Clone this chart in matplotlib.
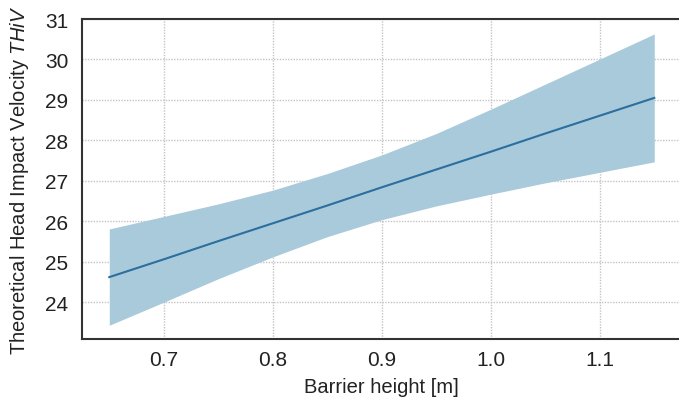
import numpy as np
import matplotlib
matplotlib.use("Agg")
from matplotlib import pyplot as plt

plt.rcParams['font.family'] = ['Liberation Sans', 'DejaVu Sans']
plt.rcParams['mathtext.fontset'] = 'custom'
plt.rcParams['mathtext.rm'] = 'Liberation Sans'
plt.rcParams['mathtext.it'] = 'Liberation Sans:italic'

# values
height = [0.65, 0.70, 0.75, 0.80, 0.85, 0.90, 0.95, 1.00, 1.05, 1.10, 1.15]
thiv = [24.62, 25.06, 25.51, 25.95, 26.39, 26.84, 27.28, 27.72, 28.17, 28.61, 29.05]
ci_upper = [25.81, 26.12, 26.43, 26.77, 27.18, 27.64, 28.17, 28.77, 29.39, 30.01, 30.63]
ci_lower = [23.43, 24.00, 24.58, 25.12, 25.62, 26.04, 26.38, 26.67, 26.95, 27.21, 27.47]

x_ticks = [0.7, 0.8, 0.9, 1.0, 1.1]
y_ticks = [24, 25, 26, 27, 28, 29, 30, 31]

fig = plt.figure(figsize=(6.79, 4.02), dpi=100)
ax = fig.add_axes([0.1208, 0.1542, 0.8829, 0.796])

ax.fill_between(height, ci_lower, ci_upper, color='#a9cadb', lw=0)
ax.plot(height, thiv, color='#2b6f9e', lw=1.5)

ax.set_xlim(0.625, 1.175)
ax.set_ylim(23.09, 31)
ax.set_xticks(x_ticks)
ax.set_xticklabels(['%.1f' % t for t in x_ticks])
ax.set_yticks(y_ticks)
ax.tick_params(length=0, labelsize=15, colors='#222222')
ax.tick_params(axis='y', pad=10)
ax.tick_params(axis='x', pad=8)

ax.grid(True, linestyle=(0, (1, 1)), color='#c4c4c4', lw=1.0)
ax.set_axisbelow(True)
for s in ['left', 'top', 'bottom', 'right']:
    ax.spines[s].set_color('#333333')
    ax.spines[s].set_linewidth(1.5)

ax.set_xlabel('Barrier height [m]', fontsize=14.5, color='#222222', labelpad=6)
ax.set_ylabel(r'Theoretical Head Impact Velocity $\it{THiV}$', fontsize=14.5, color='#222222', labelpad=10)

fig.savefig('out.png', dpi=100)
